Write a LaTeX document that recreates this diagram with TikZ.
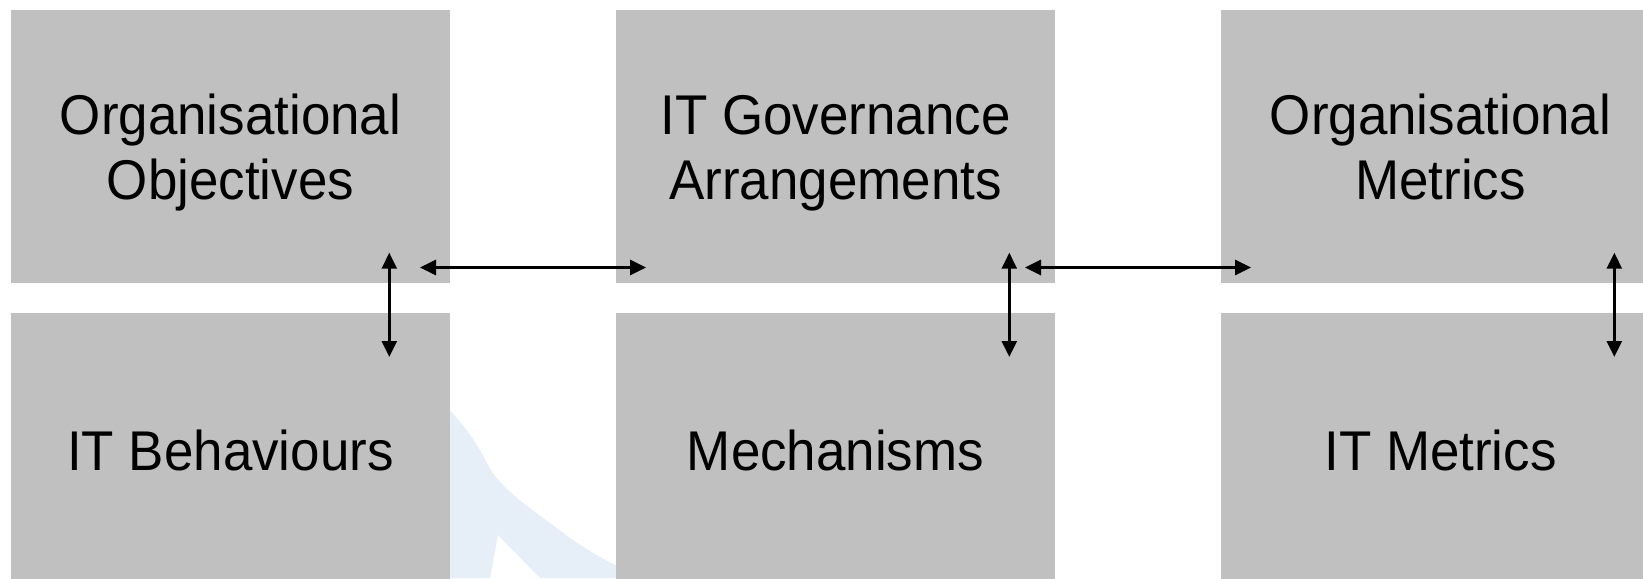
\documentclass[tikz,border=0pt]{standalone}
\usepackage{fontspec}
\setmainfont{Liberation Sans}[FakeStretch=0.945]
\usetikzlibrary{arrows.meta}
\definecolor{boxgray}{HTML}{C0C0C0}
\definecolor{wmark}{HTML}{E6EFF7}
\newcommand\lnstrut{\rule[-11pt]{0pt}{63pt}}
\tikzset{
  box/.style={rectangle, fill=boxgray, draw=none, minimum width=439pt, minimum height=273pt,
    inner sep=0pt, align=center, font=\fontsize{56}{65}\selectfont},
  dbl/.style={line width=2.7pt, {Triangle[length=16pt,width=15pt]}-{Triangle[length=16pt,width=15pt]}}
}
\begin{document}
\begin{tikzpicture}[x=1pt,y=-1pt]
\useasboundingbox (0,0) rectangle (1643,578);
\clip (0,0) rectangle (1643,578);
\fill[white] (0,0) rectangle (1643,578);
% faint watermark behind boxes
\fill[wmark] (440,400) .. controls (470,430) and (480,450) .. (488,465)
  .. controls (500,490) and (540,515) .. (570,538)
  .. controls (595,555) and (610,563) .. (630,572) -- (640,578) -- (540,578) -- (498,535) -- (490,578) -- (440,578) -- cycle;
% boxes
\node[box] (oo) at (230.5,146.5) {\lnstrut Organisational\\\lnstrut Objectives};
\node[box] (itb) at (230.5,449.5) {\lnstrut IT Behaviours};
\node[box] (itg) at (835.5,146.5) {\lnstrut IT Governance\\\lnstrut Arrangements};
\node[box] (mech) at (835.5,449.5) {\lnstrut Mechanisms};
\node[box] (om) at (1440.5,146.5) {\lnstrut Organisational\\\lnstrut Metrics};
\node[box] (itm) at (1440.5,449.5) {\lnstrut IT Metrics};
% arrow end points
\coordinate (v1t) at (389.3,252.7);
\coordinate (v1b) at (389.3,357);
\coordinate (v2t) at (1009.3,252.7);
\coordinate (v2b) at (1009.3,357);
\coordinate (v3t) at (1614.3,252.7);
\coordinate (v3b) at (1614.3,357);
\coordinate (h1l) at (420,267.5);
\coordinate (h1r) at (646,267.5);
\coordinate (h2l) at (1025,267.5);
\coordinate (h2r) at (1251,267.5);
\draw[dbl] (v1t) -- (v1b);
\draw[dbl] (v2t) -- (v2b);
\draw[dbl] (v3t) -- (v3b);
\draw[dbl] (h1l) -- (h1r);
\draw[dbl] (h2l) -- (h2r);
\end{tikzpicture}
\end{document}
